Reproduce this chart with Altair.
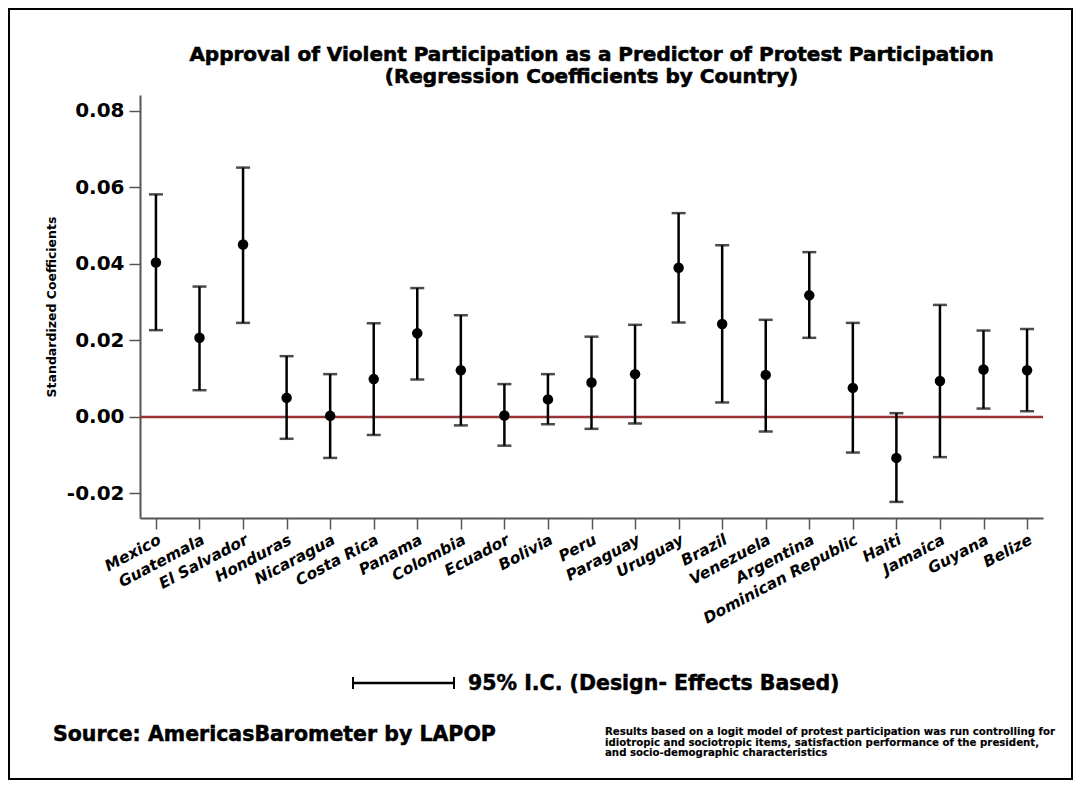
import altair as alt
import pandas as pd

countries = ["Mexico", "Guatemala", "El Salvador", "Honduras", "Nicaragua", "Costa Rica",
             "Panama", "Colombia", "Ecuador", "Bolivia", "Peru", "Paraguay", "Uruguay",
             "Brazil", "Venezuela", "Argentina", "Dominican Republic", "Haiti", "Jamaica",
             "Guyana", "Belize"]
coef = [0.0404, 0.0207, 0.0451, 0.0050, 0.0003, 0.0099, 0.0219, 0.0122, 0.0004, 0.0046,
        0.0090, 0.0112, 0.0390, 0.0243, 0.0110, 0.0318, 0.0076, -0.0107, 0.0094, 0.0124, 0.0122]
lower = [0.0227, 0.0070, 0.0246, -0.0057, -0.0107, -0.0047, 0.0098, -0.0022, -0.0075, -0.0019,
         -0.0031, -0.0017, 0.0247, 0.0038, -0.0038, 0.0207, -0.0093, -0.0222, -0.0105, 0.0022, 0.0015]
upper = [0.0582, 0.0341, 0.0652, 0.0159, 0.0112, 0.0245, 0.0337, 0.0266, 0.0086, 0.0112,
         0.0210, 0.0241, 0.0533, 0.0449, 0.0254, 0.0431, 0.0246, 0.0010, 0.0293, 0.0226, 0.0230]
y_ticks = [-0.02, 0.0, 0.02, 0.04, 0.06, 0.08]

title_line1 = "Approval of Violent Participation as a Predictor of Protest Participation"
title_line2 = "(Regression Coefficients by Country)"
legend_text = "95% I.C. (Design- Effects Based)"
source_text = "Source: AmericasBarometer by LAPOP"
note_lines = ["Results based on a logit model of protest participation was run controlling for",
              "idiotropic and sociotropic items, satisfaction performance of the president,",
              "and socio-demographic characteristics"]

FONT = "DejaVu Sans"

df = pd.DataFrame({"country": countries, "coef": coef, "lower": lower, "upper": upper})

y_scale = alt.Scale(domain=[-0.02641, 0.08418], nice=False, zero=False)
x_scale = alt.Scale(type="point", padding=0.366)

x_axis = alt.Axis(labelAngle=-28, labelAlign="right", labelBaseline="top",
                  labelFont=FONT, labelFontSize=15.5, labelFontWeight="bold",
                  labelFontStyle="italic", labelColor="black", labelPadding=3,
                  tickSize=11, tickColor="#555", tickWidth=1.5,
                  domainColor="#555", domainWidth=2, grid=False, title=None)
y_axis = alt.Axis(values=y_ticks,
                  labelExpr="datum.value < -0.0001 ? '-' + format(-datum.value, '.2f') : format(abs(datum.value), '.2f')",
                  labelFont=FONT, labelFontSize=20, labelFontWeight="bold", labelColor="black",
                  labelPadding=5, tickSize=11, tickColor="#555", tickWidth=1.5,
                  domainColor="#555", domainWidth=2, grid=False,
                  title="Standardized Coefficients", titleFont=FONT, titleFontSize=12.5,
                  titleFontWeight="bold", titleColor="black", titlePadding=8)

X = alt.X("country:N", sort=countries, scale=x_scale, axis=x_axis)

zero_line = alt.Chart(pd.DataFrame({"z": [0.0]})).mark_rule(
    color="#993333", strokeWidth=2.5).encode(
    y=alt.Y("z:Q", scale=y_scale, axis=y_axis))

base = alt.Chart(df)
bars = base.mark_rule(color="black", strokeWidth=2.5).encode(
    x=X, y=alt.Y("lower:Q", scale=y_scale, axis=y_axis), y2="upper:Q")
cap_lo = base.mark_tick(color="black", thickness=2.5, size=14).encode(
    x=X, y=alt.Y("lower:Q", scale=y_scale, axis=y_axis))
cap_hi = base.mark_tick(color="black", thickness=2.5, size=14).encode(
    x=X, y=alt.Y("upper:Q", scale=y_scale, axis=y_axis))
dots = base.mark_circle(color="black", size=110, opacity=1).encode(
    x=X, y=alt.Y("coef:Q", scale=y_scale, axis=y_axis))

one = pd.DataFrame({"k": [0]})


def label(text, x, y, size, align="left", baseline="middle", stroke=0.5, **kw):
    return alt.Chart(one).mark_text(
        text=text, font=FONT, fontSize=size, fontWeight="bold", align=align,
        baseline=baseline, color="black", stroke="black", strokeWidth=stroke, **kw
    ).encode(x=alt.value(x), y=alt.value(y))


title1 = label(title_line1, 451.5, -40, 20, align="center", stroke=0.6)
title2 = label(title_line2, 451.5, -18, 20, align="center", stroke=0.6)

# legend for the confidence interval
leg_bar = alt.Chart(one).mark_rule(color="black", strokeWidth=2.5).encode(
    x=alt.value(213), x2=alt.value(314), y=alt.value(588))
leg_cap1 = alt.Chart(one).mark_rule(color="black", strokeWidth=2).encode(
    x=alt.value(213), y=alt.value(582), y2=alt.value(594))
leg_cap2 = alt.Chart(one).mark_rule(color="black", strokeWidth=2).encode(
    x=alt.value(314), y=alt.value(582), y2=alt.value(594))
leg_text = label(legend_text, 328, 589, 20.5)

source = label(source_text, -87, 640, 20.5)

note = label(note_lines, 465, 632, 10.2, baseline="top", stroke=0.15, lineHeight=10.6)

frame = alt.Chart(one).mark_rect(fill="transparent", stroke="black", strokeWidth=2).encode(
    x=alt.value(-131), x2=alt.value(932), y=alt.value(-86), y2=alt.value(684))

chart = alt.layer(
    frame, zero_line, bars, cap_lo, cap_hi, dots, title1, title2,
    leg_bar, leg_cap1, leg_cap2, leg_text, source, note
).properties(
    width=903, height=423,
    padding={"left": 132, "top": 87, "right": 30, "bottom": 262},
    autosize=alt.AutoSizeParams(type="none"),
    background="white"
).configure_view(stroke=None)

chart.save("out.html", embed_options={"renderer": "svg", "actions": False})
